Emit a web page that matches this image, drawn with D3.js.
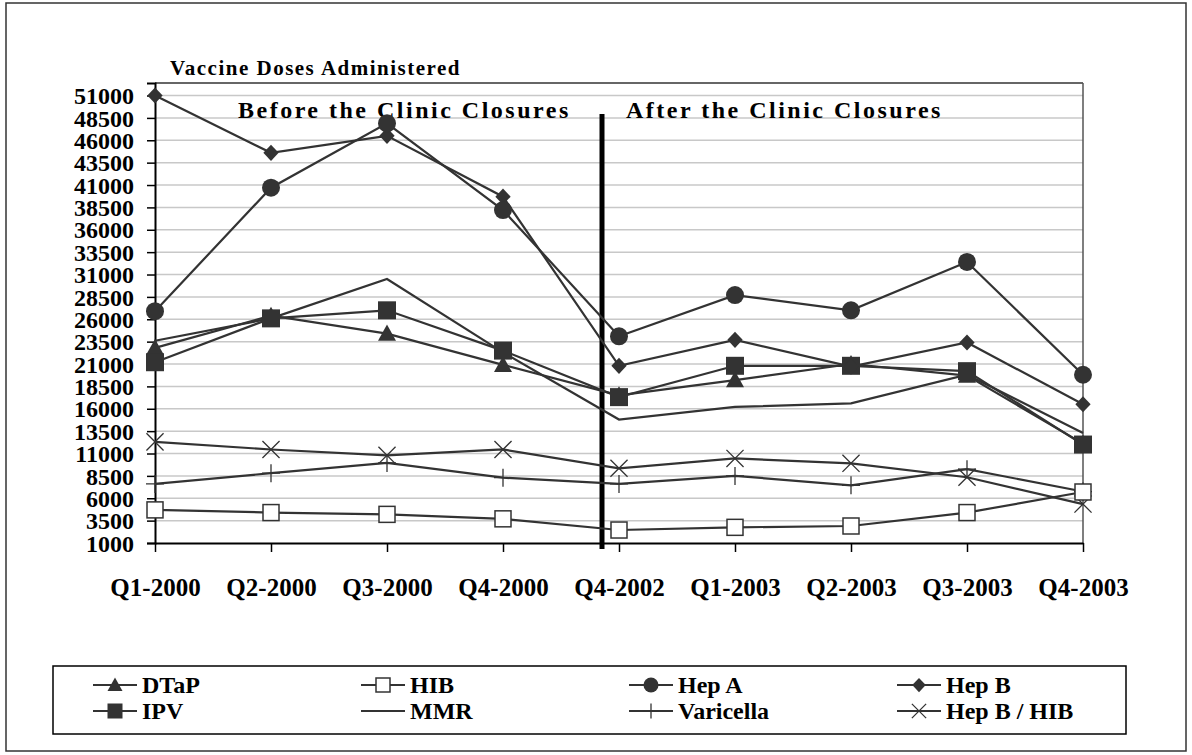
<!DOCTYPE html>
<html>
<head>
<meta charset="utf-8">
<script src="https://cdn.jsdelivr.net/npm/d3@7"></script>
<style>
  body { margin: 0; background: #fff; }
  svg text { font-family: "Times New Roman", "Liberation Serif", serif; font-weight: bold; fill: #000; }
</style>
</head>
<body>
<div id="chart"></div>
<script>
// quarters on the x axis
const quarters = ["Q1-2000", "Q2-2000", "Q3-2000", "Q4-2000", "Q4-2002", "Q1-2003", "Q2-2003", "Q3-2003", "Q4-2003"];

// doses per vaccine
const dtap      = [22800, 26400, 24400, 20900, 17500, 19200, 21000, 19700, 12100];
const hib       = [4700, 4400, 4200, 3700, 2450, 2750, 2900, 4400, 6700];
const hepA      = [26900, 40700, 47900, 38200, 24100, 28700, 27000, 32400, 19800];
const hepB      = [51000, 44600, 46500, 39700, 20800, 23700, 20700, 23400, 16500];
const ipv       = [21200, 26100, 27000, 22500, 17300, 20800, 20800, 20200, 12000];
const mmr       = [23600, 26100, 30500, 22300, 14800, 16200, 16600, 19800, 13300];
const varicella = [7600, 8800, 9950, 8300, 7600, 8500, 7450, 9250, 6750];
const hepBHib   = [12300, 11450, 10800, 11450, 9350, 10450, 9900, 8350, 5350];

const yTicks = [1000, 3500, 6000, 8500, 11000, 13500, 16000, 18500, 21000, 23500, 26000, 28500,
                31000, 33500, 36000, 38500, 41000, 43500, 46000, 48500, 51000];

const seriesNames = ["DTaP", "HIB", "Hep A", "Hep B", "IPV", "MMR", "Varicella", "Hep B / HIB"];
const seriesValues = [dtap, hib, hepA, hepB, ipv, mmr, varicella, hepBHib];
const seriesMarks = ["triangle", "openSquare", "circle", "diamond", "square", "none", "plus", "x"];

const W = 1192, H = 755;
const margin = {top: 83, right: 109, bottom: 212, left: 155};
const ink = "#333";

const svg = d3.select("#chart").append("svg")
  .attr("width", W).attr("height", H);

// outer frame
svg.append("rect")
  .attr("x", 6).attr("y", 3).attr("width", W - 12).attr("height", H - 7)
  .attr("fill", "none").attr("stroke", ink).attr("stroke-width", 1.5);

const x = d3.scalePoint()
  .domain(quarters)
  .range([margin.left, W - margin.right]);

const y = d3.scaleLinear()
  .domain([1000, 52400])
  .range([H - margin.bottom, margin.top]);

// gridlines
svg.append("g")
  .selectAll("line")
  .data(yTicks.filter(d => d > 1000))
  .join("line")
    .attr("x1", margin.left).attr("x2", W - margin.right)
    .attr("y1", d => y(d)).attr("y2", d => y(d))
    .attr("stroke", "#c8c8c8").attr("stroke-width", 1.5);

// plot frame top / right
svg.append("line")
  .attr("x1", margin.left).attr("x2", W - margin.right)
  .attr("y1", margin.top).attr("y2", margin.top)
  .attr("stroke", ink).attr("stroke-width", 1.5);
svg.append("line")
  .attr("x1", W - margin.right).attr("x2", W - margin.right)
  .attr("y1", margin.top).attr("y2", H - margin.bottom)
  .attr("stroke", "#555").attr("stroke-width", 1.5);

// y axis
const yAxis = svg.append("g")
  .attr("transform", `translate(${margin.left},0)`)
  .call(d3.axisLeft(y).tickValues(yTicks).tickFormat(d3.format("d")).tickSize(8).tickPadding(13));
yAxis.select(".domain").attr("stroke", "#000").attr("stroke-width", 2);
yAxis.selectAll(".tick line").attr("stroke", "#000").attr("stroke-width", 1.5);
yAxis.selectAll("text")
  .style("font-size", "24px").attr("fill", "#000").attr("dy", "0.34em");

// x axis
const xAxis = svg.append("g")
  .attr("transform", `translate(0,${H - margin.bottom})`)
  .call(d3.axisBottom(x).tickSize(9).tickPadding(26).tickSizeOuter(0));
xAxis.select(".domain").attr("stroke", "#000").attr("stroke-width", 2);
xAxis.selectAll(".tick line").attr("stroke", "#000").attr("stroke-width", 1.5);
xAxis.selectAll("text")
  .style("font-size", "25px").attr("fill", "#000");

// axis title
svg.append("text")
  .attr("x", 170).attr("y", 75)
  .style("font-size", "21px").style("letter-spacing", "1.5px")
  .text("Vaccine Doses Administered");

// before / after annotations
svg.append("text")
  .attr("x", 238).attr("y", 118)
  .style("font-size", "24px").style("letter-spacing", "2.5px")
  .text("Before the Clinic Closures");
svg.append("text")
  .attr("x", 626).attr("y", 118)
  .style("font-size", "24px").style("letter-spacing", "2.5px")
  .text("After the Clinic Closures");

// divider between the periods
const divX = (x("Q4-2000") + x("Q4-2002")) / 2 + 41;
svg.append("line")
  .attr("x1", divX).attr("x2", divX)
  .attr("y1", 114).attr("y2", H - margin.bottom + 6)
  .attr("stroke", "#000").attr("stroke-width", 5);

// marker drawing
function drawMark(g, type, s) {
  const h = s / 2;
  if (type === "triangle") {
    g.append("path").attr("d", `M0,${-h} L${h},${h * 0.8} L${-h},${h * 0.8} Z`).attr("fill", ink);
  } else if (type === "openSquare") {
    g.append("rect").attr("x", -h + 0.5).attr("y", -h + 0.5).attr("width", s - 1).attr("height", s - 1)
      .attr("fill", "#fff").attr("stroke", ink).attr("stroke-width", 1.5);
  } else if (type === "circle") {
    g.append("circle").attr("r", h).attr("fill", ink);
  } else if (type === "diamond") {
    g.append("path").attr("d", `M0,${-h * 0.95} L${h * 0.9},0 L0,${h * 0.95} L${-h * 0.9},0 Z`).attr("fill", ink);
  } else if (type === "square") {
    g.append("rect").attr("x", -h).attr("y", -h).attr("width", s).attr("height", s).attr("fill", ink);
  } else if (type === "plus") {
    g.append("path").attr("d", `M0,${-h} V${h} M${-h},0 H${h}`)
      .attr("stroke", ink).attr("stroke-width", 1.3).attr("fill", "none");
  } else if (type === "x") {
    const k = h * 0.95;
    g.append("path").attr("d", `M${-k},${-k} L${k},${k} M${-k},${k} L${k},${-k}`)
      .attr("stroke", ink).attr("stroke-width", 1.3).attr("fill", "none");
  }
}

const line = d3.line()
  .x((d, i) => x(quarters[i]))
  .y(d => y(d));

// draw lower series first so the big markers sit on top
const order = [7, 6, 1, 5, 0, 4, 3, 2];
order.forEach(k => {
  svg.append("path")
    .datum(seriesValues[k])
    .attr("fill", "none")
    .attr("stroke", ink)
    .attr("stroke-width", 2.2)
    .attr("d", line);
});
order.forEach(k => {
  if (seriesMarks[k] === "none") return;
  const sz = seriesMarks[k] === "openSquare" ? 17 : (seriesMarks[k] === "diamond" ? 17 : 18);
  seriesValues[k].forEach((v, i) => {
    const g = svg.append("g").attr("transform", `translate(${x(quarters[i])},${y(v)})`);
    drawMark(g, seriesMarks[k], sz);
  });
});

// legend
const leg = svg.append("g");
leg.append("rect")
  .attr("x", 53).attr("y", 666).attr("width", 1073).attr("height", 68)
  .attr("fill", "#fff").attr("stroke", "#000").attr("stroke-width", 1.5);

seriesNames.forEach((name, i) => {
  const col = i % 4, row = Math.floor(i / 4);
  const lx = 93 + col * 268, ly = 685 + row * 26;
  const g = leg.append("g").attr("transform", `translate(${lx},${ly})`);
  g.append("line").attr("x1", 0).attr("x2", 44).attr("y1", 0).attr("y2", 0)
    .attr("stroke", ink).attr("stroke-width", 2.2);
  const m = g.append("g").attr("transform", "translate(22,0)");
  drawMark(m, seriesMarks[i], 15);
  g.append("text").attr("x", 49).attr("y", 8)
    .style("font-size", "24px")
    .text(name);
});
</script>
</body>
</html>
